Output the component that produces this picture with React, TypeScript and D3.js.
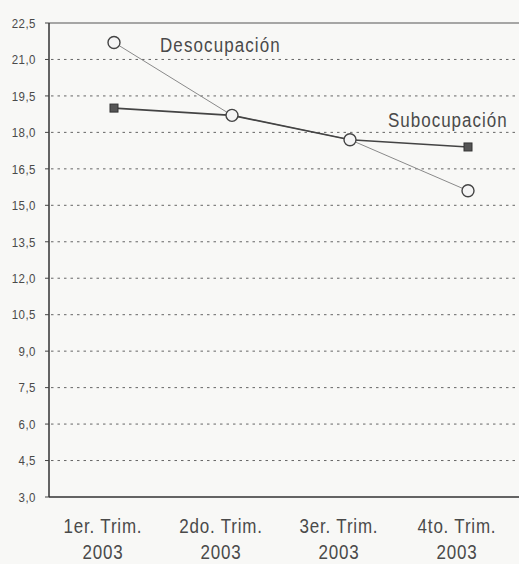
import React from "react";
import * as d3 from "d3";

const categories = ["1er. Trim. 2003", "2do. Trim. 2003", "3er. Trim. 2003", "4to. Trim. 2003"];
const catLine1 = ["1er. Trim.", "2do. Trim.", "3er. Trim.", "4to. Trim."];
const catLine2 = ["2003", "2003", "2003", "2003"];
const desocupacion = [21.7, 18.7, 17.7, 15.6];
const subocupacion = [19.0, 18.7, 17.7, 17.4];
const yTicks = [3.0, 4.5, 6.0, 7.5, 9.0, 10.5, 12.0, 13.5, 15.0, 16.5, 18.0, 19.5, 21.0, 22.5];

const W = 519;
const H = 564;
const left = 49;
const top = 23;
const bottom = 497;
const SY = 1.15;

export default function App() {
  const x = d3.scalePoint<string>().domain(categories).range([114, 468]);
  const y = d3.scaleLinear().domain([3, 22.5]).range([bottom, top]);
  const fmt = (v: number) => v.toFixed(1).replace(".", ",");
  const line = d3
    .line<number>()
    .x((_, i) => x(categories[i]) as number)
    .y((d) => y(d));
  const font = "'Liberation Sans', Arial, sans-serif";
  const T = (props: { x: number; y: number; size: number; ls?: number; anchor?: string; children: React.ReactNode }) => (
    <text
      transform={`translate(${props.x},${props.y}) scale(1,${SY})`}
      fontSize={props.size}
      letterSpacing={props.ls || 0}
      textAnchor={props.anchor || "start"}
      fill="#4a4a4a"
      fontFamily={font}
    >
      {props.children}
    </text>
  );
  return (
    <svg width={W} height={H} style={{ position: "absolute", left: 0, top: 0, background: "#f8f8f6" }}>
      <rect x={0} y={0} width={W} height={H} fill="#f8f8f6" />
      {yTicks.slice(1, -1).map((t) => (
        <line key={"g" + t} x1={left + 2} x2={W} y1={y(t)} y2={y(t)} stroke="#666" strokeWidth={1} strokeDasharray="2.5,4" />
      ))}
      <line x1={left} x2={W} y1={y(22.5)} y2={y(22.5)} stroke="#555" strokeWidth={1.2} />
      <line x1={left} x2={W} y1={y(3)} y2={y(3)} stroke="#333" strokeWidth={1.5} />
      <line x1={left} x2={left} y1={y(22.5)} y2={y(3)} stroke="#333" strokeWidth={1.5} />
      {yTicks.map((t) => (
        <g key={"t" + t}>
          <line x1={left - 4} x2={left} y1={y(t)} y2={y(t)} stroke="#444" />
          <T x={36} y={y(t) + 4.8} size={11.5} ls={0.5} anchor="end">{fmt(t)}</T>
        </g>
      ))}
      {categories.map((c, i) => (
        <g key={c}>
          <T x={(x(c) as number) - 11} y={533} size={17} ls={0.8} anchor="middle">{catLine1[i]}</T>
          <T x={(x(c) as number) - 11} y={559} size={17} ls={0.8} anchor="middle">{catLine2[i]}</T>
        </g>
      ))}
      <path d={line(desocupacion) || ""} fill="none" stroke="#8a8a8a" strokeWidth={1} />
      <path d={line(subocupacion) || ""} fill="none" stroke="#444" strokeWidth={1.6} />
      {subocupacion.map((v, i) => (
        <rect key={"s" + i} x={(x(categories[i]) as number) - 4} y={y(v) - 4} width={8} height={8} fill="#555" stroke="#333" strokeWidth={1} />
      ))}
      {desocupacion.map((v, i) => (
        <circle key={"d" + i} cx={x(categories[i]) as number} cy={y(v)} r={6} fill="#f4f4f4" stroke="#444" strokeWidth={1.4} />
      ))}
      <T x={160} y={52} size={17} ls={1.1}>Desocupación</T>
      <T x={388} y={127} size={17} ls={1}>Subocupación</T>
    </svg>
  );
}
